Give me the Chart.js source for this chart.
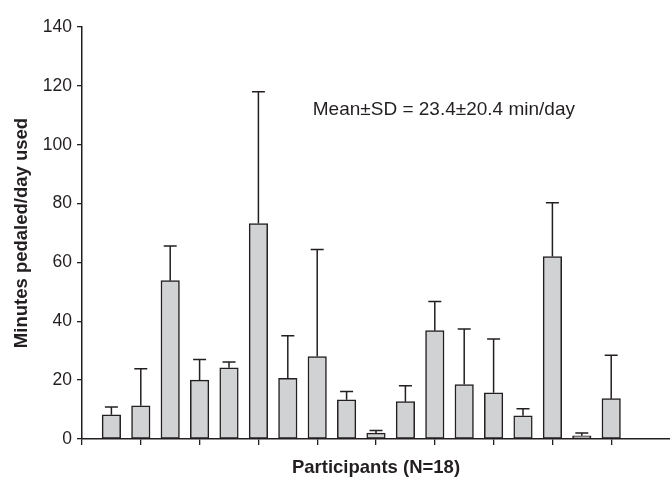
<!DOCTYPE html>
<html>
<head>
<meta charset="utf-8">
<script src="https://cdn.jsdelivr.net/npm/chart.js@4/dist/chart.umd.min.js"></script>
<style>
  html, body { margin: 0; padding: 0; background: #fff; }
  #wrap { width: 670px; height: 477px; position: relative; }
</style>
</head>
<body>
<div id="wrap"><canvas id="c" width="670" height="477"></canvas></div>
<script>
// Participant numbers (x positions on the axis), mean minutes and SD
const participants = [1, 2, 3, 4, 5, 6, 7, 8, 9, 10, 11, 12, 13, 14, 15, 16, 17, 18];
const meanMinutes = [8.2, 11.3, 53.8, 20.0, 24.2, 73.2, 20.6, 28.0, 13.3, 2.0, 12.7, 36.8, 18.5, 15.7, 7.9, 62.0, 1.1, 13.7];
const sdMinutes   = [2.7, 12.6, 11.8, 7.0, 2.0, 44.8, 14.5, 36.4, 2.8, 0.9, 5.4, 9.9, 18.9, 18.3, 2.4, 18.3, 0.9, 14.8];
const yTicks = [0, 20, 40, 60, 80, 100, 120, 140];
const xTickMarks = [0, 2, 4, 6, 8, 10, 12, 14, 16, 18];
const annotationText = 'Mean\u00B1SD = 23.4\u00B120.4 min/day';
const annotationPos = { x: 7.85, y: 112 };

const INK = '#231f20';
const FONT = "'Liberation Sans', Arial, Helvetica, sans-serif";

const points = participants.map((p, i) => ({ x: p, y: meanMinutes[i] }));

const errorBars = {
  id: 'errorBars',
  afterDatasetsDraw(chart) {
    const ctx = chart.ctx;
    const meta = chart.getDatasetMeta(0);
    const ys = chart.scales.y;
    ctx.save();
    ctx.strokeStyle = INK;
    ctx.lineWidth = 1.5;
    meta.data.forEach((el, i) => {
      const top = ys.getPixelForValue(meanMinutes[i] + sdMinutes[i]);
      const x = el.x;
      ctx.beginPath();
      ctx.moveTo(x, el.y);
      ctx.lineTo(x, top);
      ctx.moveTo(x - 6.5, top);
      ctx.lineTo(x + 6.5, top);
      ctx.stroke();
    });
    ctx.restore();
  }
};

const annotation = {
  id: 'annotation',
  afterDraw(chart) {
    const ctx = chart.ctx;
    const x = chart.scales.x.getPixelForValue(annotationPos.x);
    const y = chart.scales.y.getPixelForValue(annotationPos.y);
    ctx.save();
    ctx.fillStyle = INK;
    ctx.font = '19px ' + FONT;
    ctx.textAlign = 'left';
    ctx.textBaseline = 'middle';
    ctx.fillText(annotationText, x, y);
    ctx.restore();
  }
};

new Chart(document.getElementById('c'), {
  type: 'bar',
  data: {
    datasets: [{
      data: points,
      backgroundColor: '#d1d2d4',
      borderColor: INK,
      borderWidth: 1.5,
      borderSkipped: false,
      barThickness: 18.5
    }]
  },
  options: {
    responsive: false,
    animation: false,
    devicePixelRatio: 1,
    layout: { padding: { top: 27, right: 0, left: 0, bottom: 0 } },
    plugins: {
      legend: { display: false },
      tooltip: { enabled: false }
    },
    scales: {
      x: {
        type: 'linear',
        offset: false,
        min: 0,
        max: 20,
        afterFit(scale) { scale.height = 38; },
        afterBuildTicks(scale) {
          scale.ticks = xTickMarks.map(v => ({ value: v }));
        },
        ticks: { callback: () => '', font: { size: 1 } },
        grid: {
          offset: false,
          drawOnChartArea: false,
          drawTicks: true,
          tickLength: 6,
          color: INK,
          lineWidth: 1.3
        },
        border: { color: INK, width: 1.5 },
        title: {
          display: true,
          text: 'Participants (N=18)',
          color: INK,
          font: { family: FONT, size: 18.5, weight: 'bold', lineHeight: 1 },
          padding: { top: 0, bottom: 0 }
        }
      },
      y: {
        min: 0,
        max: 140,
        afterFit(scale) { scale.width = 82; },
        afterBuildTicks(scale) {
          scale.ticks = yTicks.map(v => ({ value: v }));
        },
        ticks: {
          color: INK,
          padding: 5,
          font: { family: FONT, size: 17.5 }
        },
        grid: {
          drawOnChartArea: false,
          drawTicks: true,
          tickLength: 5,
          color: INK,
          lineWidth: 1.3
        },
        border: { color: INK, width: 1.5 },
        title: {
          display: true,
          text: 'Minutes pedaled/day used',
          color: INK,
          font: { family: FONT, size: 18.5, weight: 'bold', lineHeight: 1 },
          padding: { top: 13, bottom: 0 }
        }
      }
    }
  },
  plugins: [errorBars, annotation]
});
</script>
</body>
</html>
